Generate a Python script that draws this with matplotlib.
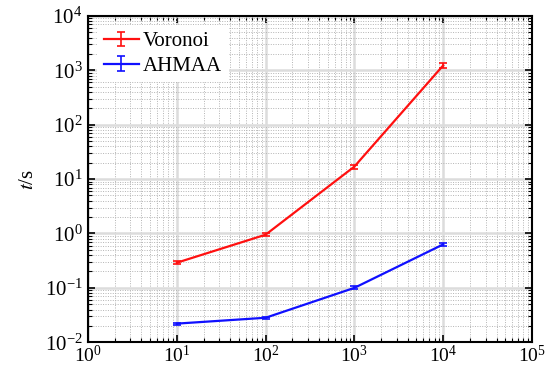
import numpy as np
import matplotlib
matplotlib.use('Agg')
import matplotlib.pyplot as plt
from matplotlib.ticker import LogLocator, NullFormatter
from matplotlib.legend_handler import HandlerErrorbar

plt.rcParams['font.family'] = ['Liberation Serif', 'DejaVu Serif']
plt.rcParams['mathtext.fontset'] = 'stix'
plt.rcParams['axes.unicode_minus'] = False

# data
n_points = [10, 100, 1000, 10000]
voronoi_t = [0.29, 0.95, 17.0, 1230.0]
voronoi_err = [0.02, 0.05, 1.5, 110.0]
ahmaa_t = [0.022, 0.0282, 0.1, 0.63]
ahmaa_err = [0.001, 0.0012, 0.006, 0.04]

fig = plt.figure(figsize=(5.57, 3.72), dpi=100)
ax = fig.add_axes([0.158, 0.08, 0.797, 0.877])

ax.errorbar(n_points, voronoi_t, yerr=voronoi_err, color='#ff1010', lw=1.6,
            capsize=3, capthick=1.2, elinewidth=1.2, label='Voronoi')
ax.errorbar(n_points, ahmaa_t, yerr=ahmaa_err, color='#1010ff', lw=1.6,
            capsize=3, capthick=1.2, elinewidth=1.2, label='AHMAA')

ax.set_xscale('log')
ax.set_yscale('log')
ax.set_xlim(1, 1e5)
ax.set_ylim(1e-2, 1e4)

for axis in (ax.xaxis, ax.yaxis):
    axis.set_major_locator(LogLocator(base=10, numticks=10))
    axis.set_minor_locator(LogLocator(base=10, subs=np.arange(2, 10), numticks=10))
    axis.set_minor_formatter(NullFormatter())

ax.grid(which='major', color='#dcdcdc', lw=1.8, ls='-')
ax.grid(which='minor', color='#b4b4b4', lw=0.7, ls=(0, (1, 1.5)))
ax.set_axisbelow(True)

ax.tick_params(which='both', direction='in', top=True, right=True, labelsize=15)
ax.tick_params(which='major', length=5, width=1.2)
ax.tick_params(which='minor', length=3, width=0.8)
ax.tick_params(axis='x', pad=2, labelsize=14)
ax.tick_params(axis='y', pad=4)
for s in ax.spines.values():
    s.set_linewidth(1.5)

ax.set_ylabel('$t$/s', fontsize=15, labelpad=5)

leg = ax.legend(loc='upper left', fontsize=15, frameon=True, fancybox=False,
                handlelength=1.7, handletextpad=0.2, borderpad=0.3,
                labelspacing=0.25, borderaxespad=0.45,
                handler_map={type(ax.containers[0]): HandlerErrorbar(yerr_size=0.35)})
leg.get_frame().set_edgecolor('none')
leg.get_frame().set_facecolor('white')
leg.get_frame().set_alpha(1.0)

fig.savefig('out.png', dpi=100)
